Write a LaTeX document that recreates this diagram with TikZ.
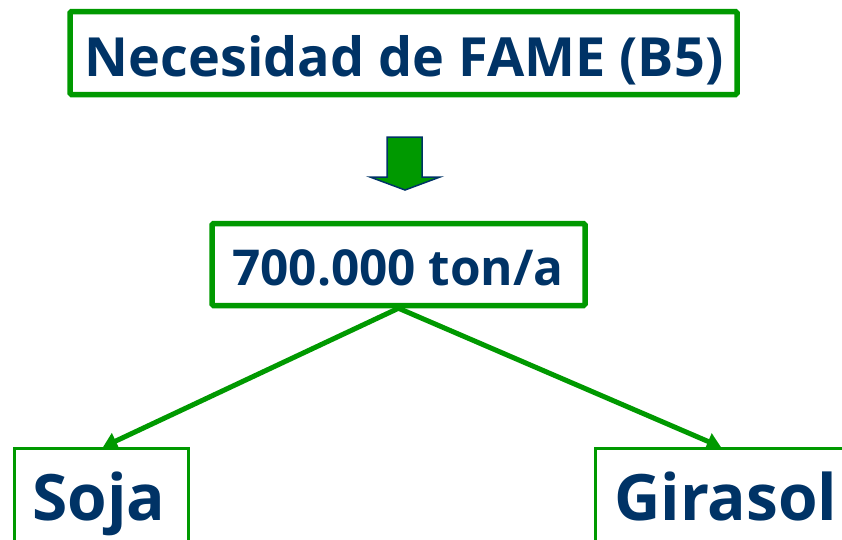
\documentclass[tikz,border=0pt]{standalone}
\usepackage{fontspec}
\setmainfont{Open Sans}
\usetikzlibrary{arrows.meta}
\definecolor{navy}{RGB}{0,51,102}
\definecolor{fgreen}{RGB}{0,153,0}
\tikzset{
  bigbox/.style={draw=fgreen, line width=5.5pt, rounded corners=1.5pt, inner sep=0pt},
  lowbox/.style={draw=fgreen, line width=2.5pt, inner sep=0pt, anchor=north west},
  label/.style={text=navy, font=\bfseries, inner sep=0pt},
  conn/.style={draw=fgreen, line width=5pt, -{Triangle[length=14pt,width=17pt]}, shorten <=-1pt}
}
\begin{document}
\begin{tikzpicture}[x=1pt,y=-1pt]
\useasboundingbox (0,0) rectangle (842,539);
\clip (0,0) rectangle (842,539);
\node[bigbox, minimum width=667pt, minimum height=83pt] (top) at (403.5,53) {};
\node[label, font=\bfseries\fontsize{54}{60}\selectfont, anchor=base] (toptext) at (404,76) {Necesidad de FAME (B5)};
\draw[fill=fgreen, draw=navy, line width=1.5pt, line join=miter]
  (387,137) -- (422,137) -- (422,177) -- (440,177) -- (405,190) -- (370,177) -- (387,177) -- cycle;
\node[bigbox, minimum width=373pt, minimum height=82pt] (mid) at (398.5,264.5) {};
\node[label, font=\bfseries\fontsize{49.5}{56}\selectfont, anchor=base] (midtext) at (398,285) {700.000 ton/a};
\node[lowbox, minimum width=174pt, minimum height=150pt] (soja) at (13,447) {};
\node[lowbox, minimum width=300pt, minimum height=150pt] (gira) at (594,447) {};
\node[label, font=\bfseries\fontsize{64}{68}\selectfont, anchor=base] (sojatext) at (99,520) {Soja};
\node[label, font=\bfseries\fontsize{64}{68}\selectfont, anchor=base west] (giratext) at (614,520) {Girasol};
\coordinate (stip) at (103,447);
\coordinate (gtip) at (721,447);
\draw[conn] (mid.south) -- (stip);
\draw[conn] (mid.south) -- (gtip);
\end{tikzpicture}
\end{document}
